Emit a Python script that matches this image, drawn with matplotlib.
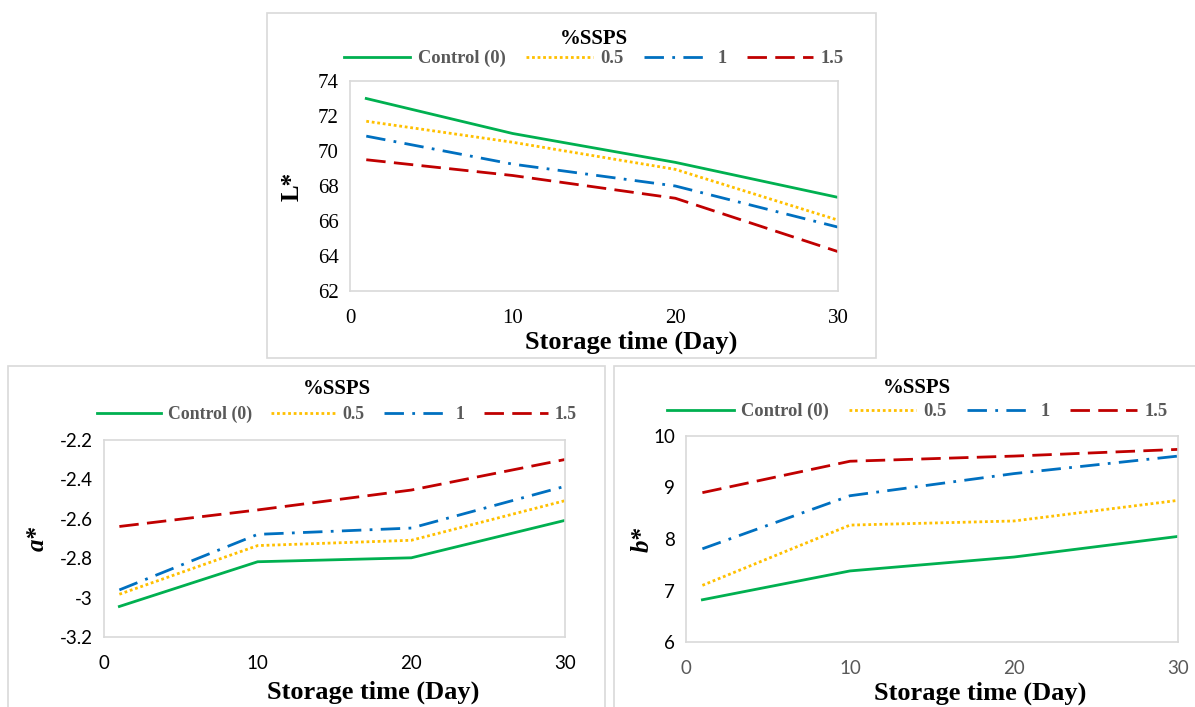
import matplotlib.pyplot as plt
from matplotlib.patches import Rectangle

days = [1, 10, 20, 30]
labels = ["Control (0)", "0.5", "1", "1.5"]

L_values = [
    [73.0, 71.0, 69.35, 67.35],
    [71.7, 70.5, 68.95, 66.05],
    [70.85, 69.25, 68.0, 65.65],
    [69.5, 68.6, 67.3, 64.25],
]
a_values = [
    [-3.045, -2.818, -2.798, -2.608],
    [-2.983, -2.736, -2.709, -2.508],
    [-2.961, -2.679, -2.647, -2.435],
    [-2.639, -2.555, -2.454, -2.299],
]
b_values = [
    [6.82, 7.38, 7.65, 8.05],
    [7.10, 8.27, 8.35, 8.75],
    [7.81, 8.84, 9.27, 9.61],
    [8.90, 9.51, 9.61, 9.74],
]

colors = ["#00B050", "#FFC000", "#0070C0", "#C00000"]
styles = ["-", (0, (1, 1)), (0, (7, 3, 1, 3)), (0, (7, 3))]

W, H = 1195, 707
fig = plt.figure(figsize=(W / 100, H / 100), dpi=100)

def px(x0, y0, x1, y1):
    # pixel box (top-left origin) -> figure fraction rect
    return [x0 / W, 1 - y1 / H, (x1 - x0) / W, (y1 - y0) / H]

# panel borders
for x0, y0, x1, y1 in [(267, 13, 876, 358), (8, 366, 605, 712), (614, 366, 1200, 712)]:
    fig.patches.append(Rectangle((x0 / W, 1 - y1 / H), (x1 - x0) / W, (y1 - y0) / H,
                                 transform=fig.transFigure, fill=False,
                                 edgecolor="#d9d9d9", linewidth=1.2))

serif = "Liberation Serif"
sans = "Lato"


def panel(rect, values, ylim, yticks, ylabel, tick_font, tick_size, xlab_pos, ylab_x,
          leg_anchor, leg_sep, leg_size, ytick_labels=None, xtick_color="black"):
    ax = fig.add_axes(rect)
    for vals, c, ls, lab in zip(values, colors, styles, labels):
        ax.plot(days, vals, color=c, linestyle=ls, linewidth=2.0, label=lab)
    ax.set_xlim(0, 30)
    ax.set_ylim(*ylim)
    ax.set_xticks([0, 10, 20, 30])
    ax.set_yticks(yticks)
    if ytick_labels is not None:
        ax.set_yticklabels(ytick_labels)
    for s in ax.spines.values():
        s.set_color("#d9d9d9")
        s.set_linewidth(1.2)
    ax.tick_params(length=0, labelsize=tick_size)
    ax.tick_params(axis="x", pad=13, labelcolor=xtick_color)
    ax.tick_params(axis="y", pad=8)
    for t in ax.get_xticklabels() + ax.get_yticklabels():
        t.set_fontfamily(tick_font)
    ax.set_xlabel("Storage time (Day)", fontsize=19, fontweight="bold", fontfamily=serif)
    ax.xaxis.set_label_coords(*xlab_pos)
    ax.set_ylabel(ylabel[0], fontsize=18, fontweight="bold", fontstyle=ylabel[1],
                  fontfamily=serif)
    ax.yaxis.set_label_coords(ylab_x, 0.5)
    leg = ax.legend(loc="lower center", bbox_to_anchor=leg_anchor, ncol=4,
                    frameon=False, title="%SSPS", handlelength=3.6,
                    columnspacing=1.1, handletextpad=0.4, borderaxespad=0,
                    labelspacing=0.2,
                    prop={"family": serif, "weight": "bold", "size": leg_size})
    leg.get_title().set_fontfamily(serif)
    leg.get_title().set_fontweight("bold")
    leg.get_title().set_fontsize(15)
    leg._legend_box.sep = leg_sep
    for t in leg.get_texts():
        t.set_color("#595959")
    return ax


panel(px(350, 81, 838, 291), L_values, (62, 74), [62, 64, 66, 68, 70, 72, 74],
      ("L*", "normal"), serif, 15, (0.576, -0.19), -0.095, (0.5, 1.03), 1, 13.3)
panel(px(104, 440, 565, 637), a_values, (-3.2, -2.2),
      [-3.2, -3.0, -2.8, -2.6, -2.4, -2.2], ("a*", "italic"), sans, 13.5,
      (0.584, -0.22), -0.121, (0.505, 1.05), 5, 12.8,
      ytick_labels=["-3.2", "-3", "-2.8", "-2.6", "-2.4", "-2.2"])
panel(px(686, 436, 1178, 642), b_values, (6, 10), [6, 7, 8, 9, 10],
      ("b*", "italic"), sans, 13.5, (0.598, -0.19), -0.065, (0.47, 1.04), 4, 13.3,
      xtick_color="#595959")

fig.savefig("out.png", dpi=100)
